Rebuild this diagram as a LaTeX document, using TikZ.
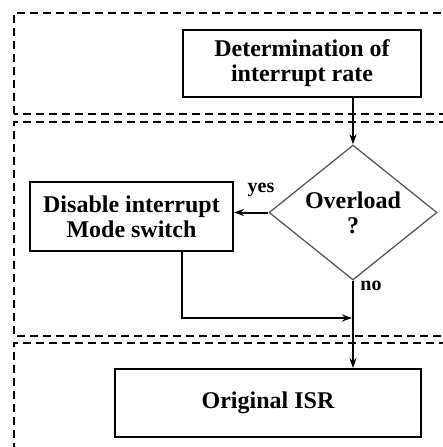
\documentclass[tikz,border=0pt]{standalone}
\usepackage{fontspec}
\setmainfont{Liberation Serif}
\usetikzlibrary{shapes.geometric, arrows.meta, positioning}
\begin{document}
\begin{tikzpicture}[x = 1pt, y = -1pt,
	txt/.style = {font = \fontsize{24}{25}\selectfont\bfseries, align = center},
	lbl/.style = {font = \fontsize{20}{22}\selectfont\bfseries, inner sep = 0pt},
	blk/.style = {txt, draw, line width = 2pt, inner sep = 0pt},
	dec/.style = {txt, diamond, draw = black!65, line width = 1.3pt, inner sep = 0pt, shape aspect = 1.24},
	stage/.style = {line width = 2pt, dash pattern = on 8pt off 5pt},
	flow/.style = {line width = 2pt, -{Stealth[length = 10pt, width = 7pt]}}]
	\useasboundingbox (0, 0) rectangle (443, 447);
	\clip (0, 0) rectangle (443, 447);
	% three stages
	\draw [stage] (14, 114) -- (14, 13) -- (460, 13);
	\draw [stage] (460, 114) -- (14, 114);
	\draw [stage] (460, 122) -- (14, 122) -- (14, 336) -- (460, 336);
	\draw [stage] (460, 343) -- (14, 343) -- (14, 460);
	% flow chart
	\node [blk, minimum width = 238pt, minimum height = 67pt] (rate) at (302, 63.5) {Determination of\\interrupt rate};
	\node [dec, minimum width = 168pt, minimum height = 135pt] (load) at (353, 212.5) {Overload\\?};
	\node [blk, minimum width = 203pt, minimum height = 69pt] (mode) at (131.5, 216.5) {Disable interrupt\\Mode switch};
	\node [blk, minimum width = 306pt, minimum height = 68pt] (isr) at (268, 403) {Original ISR};
	\node [lbl] (yes) at (261, 190) {yes};
	\node [lbl] (no) at (371, 286) {no};
	\coordinate (join) at (352, 318);
	\draw [flow] (rate.south -| load.north) -- (load.north);
	\draw [flow] (load.west) -- (load.west -| mode.east);
	\draw [flow] (load.south) -- (isr.north -| load.south);
	\draw [flow] (rate.west |- mode.south) |- (join);
\end{tikzpicture}
\end{document}
